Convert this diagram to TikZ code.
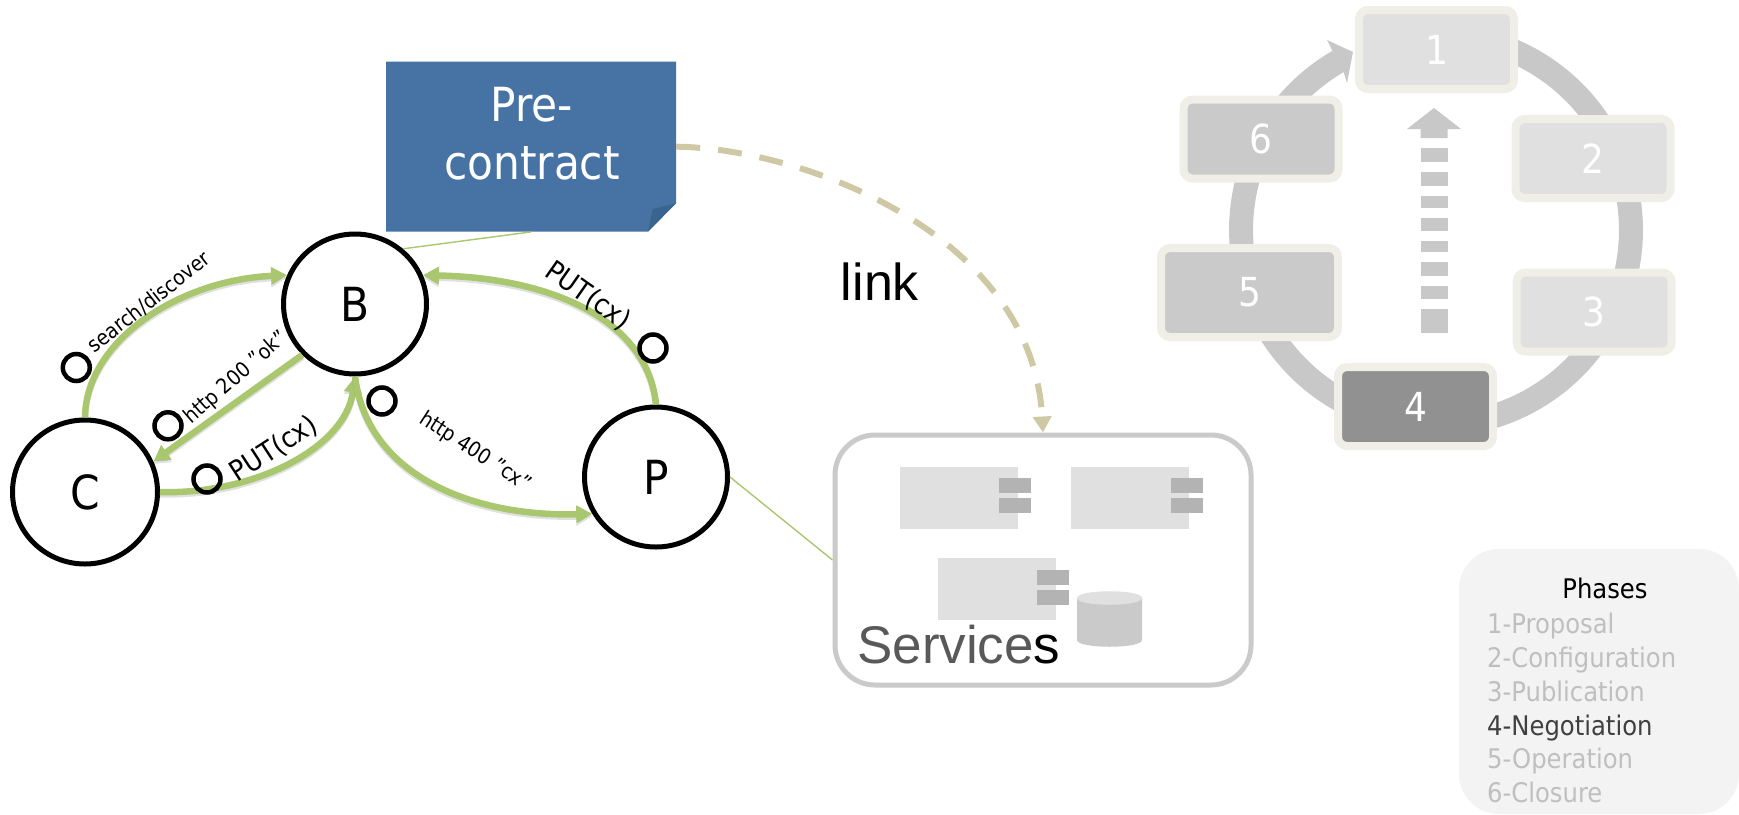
\documentclass[tikz,border=0pt]{standalone}
\usepackage{fontspec}
\setmainfont{DejaVu Sans Condensed}
\newfontfamily\arialfont{Liberation Sans}
\usetikzlibrary{arrows.meta,shadows,shapes.geometric}
\definecolor{grn}{HTML}{A9C76E}
\definecolor{beige}{HTML}{CFC8A4}
\definecolor{notebl}{HTML}{4673A4}
\definecolor{notefold}{HTML}{3A6490}
\definecolor{ringc}{HTML}{C8C8C8}
\definecolor{frame}{HTML}{EFEFE7}
\definecolor{lightc}{HTML}{E0E0E0}
\definecolor{midc}{HTML}{CACACA}
\definecolor{darkc}{HTML}{919191}
\definecolor{tabc}{HTML}{B3B3B3}
\definecolor{phgrey}{HTML}{BFBFBF}
\definecolor{phbg}{HTML}{F3F3F3}
\tikzset{
  actor/.style={draw=black,line width=5pt,ellipse,fill=white,inner sep=0pt,font=\fontsize{47}{50}\selectfont},
  flow/.style={draw=grn,line width=6.5pt,-{Triangle[length=16pt,width=17pt]},
    preaction={draw=black,opacity=.12,line width=6pt,transform canvas={yshift=-2.5pt}}},
  thinlink/.style={draw=grn,line width=1.4pt},
  ringpath/.style={draw=ringc,line width=24pt},
  phasebox/.style={rectangle,rounded corners=9pt,draw=frame,line width=8pt,text=white,inner sep=0pt,
    font=\fontsize{40}{44}\selectfont,drop shadow={shadow xshift=0pt,shadow yshift=-3pt,opacity=.28,fill=black}},
  smallring/.style={circle,draw=black,line width=4.5pt,fill=none,minimum size=27pt,inner sep=0pt},
  lbl/.style={inner sep=0pt,text=black},
  comp/.style={fill=lightc,draw=none,rectangle,inner sep=0pt,minimum width=118pt,minimum height=62pt},
  tabbox/.style={fill=tabc,draw=none,rectangle,inner sep=0pt,minimum width=32pt,minimum height=15pt},
  phline/.style={anchor=base west,inner sep=0pt,text=phgrey,font=\fontsize{27}{30}\selectfont},
}
\begin{document}
\begin{tikzpicture}[x=1pt,y=-1pt]
\useasboundingbox (0,0) rectangle (1739,814);

% phases legend
\fill[phbg,rounded corners=40pt] (1459,549) rectangle (1739,814);
\node[anchor=base,inner sep=0pt,text=black,font=\fontsize{27}{30}\selectfont] (phT) at (1605,598) {Phases};
\node[phline] (ph1) at (1487,633) {1-Proposal};
\node[phline] (ph2) at (1487,667) {2-Configuration};
\node[phline] (ph3) at (1487,701) {3-Publication};
\node[phline,text=black!75] (ph4) at (1487,735) {4-Negotiation};
\node[phline] (ph5) at (1487,768) {5-Operation};
\node[phline] (ph6) at (1487,802) {6-Closure};

% ring
\draw[ringpath] plot[domain=90:-240,samples=140] ({1436+195*cos(\x)},{230-195*sin(\x)});
\fill[ringc] (1327,40) -- (1353,52) -- (1347,83) -- (1343.6,72) -- (1333,52) -- cycle;

% up arrow
\fill[ringc] (1434,108) -- (1461,129) -- (1447.7,129) -- (1447.7,138) -- (1420.5,138) -- (1420.5,129) -- (1407,129) -- cycle;
\foreach \a/\b in {148/162,172/186,196/208,218/231,241/252,262/276,286/299,309/333}
  \fill[ringc] (1420.5,\a) rectangle (1447.7,\b);

% phase boxes
\node[phasebox,fill=lightc,minimum width=155pt,minimum height=79pt] (p1) at (1436.5,49.5) {1};
\node[phasebox,fill=lightc,minimum width=155pt,minimum height=79pt] (p2) at (1593,158.5) {2};
\node[phasebox,fill=lightc,minimum width=155pt,minimum height=79pt] (p3) at (1594,312) {3};
\node[phasebox,fill=darkc,minimum width=155pt,minimum height=79pt] (p4) at (1415.5,406.5) {4};
\node[phasebox,fill=midc,minimum width=177pt,minimum height=89pt] (p5) at (1249.5,292.5) {5};
\node[phasebox,fill=midc,minimum width=155pt,minimum height=79pt] (p6) at (1261,139) {6};

% services
\node[rectangle,draw=midc,line width=5pt,rounded corners=40pt,minimum width=416pt,minimum height=250pt,inner sep=0pt] (svc) at (1043,560) {};
\node[comp] (c1) at (959,498) {};
\node[tabbox] (t1a) at (1015,485.5) {};
\node[tabbox] (t1b) at (1015,505.5) {};
\node[comp] (c2) at (1130,498) {};
\node[tabbox] (t2a) at (1187,485.5) {};
\node[tabbox] (t2b) at (1187,505.5) {};
\node[comp] (c3) at (997,589) {};
\node[tabbox] (t3a) at (1053,577.5) {};
\node[tabbox] (t3b) at (1053,597.5) {};
\fill[midc] (1077,598) -- (1142,598) -- (1142,640) .. controls (1142,649) and (1077,649) .. (1077,640) -- cycle;
\fill[lightc] (1077,598) .. controls (1077,589) and (1142,589) .. (1142,598) .. controls (1142,607) and (1077,607) .. (1077,598) -- cycle;
\node[anchor=base west,inner sep=0pt,font=\arialfont\fontsize{53}{56}\selectfont] (svctxt) at (857,663) {\textcolor[HTML]{595959}{Service}s};

% note
\node[rectangle,inner sep=0pt,minimum width=290pt,minimum height=170pt] (note) at (531,146.7) {};
\fill[notebl] (386,61.7) -- (676,61.7) -- (676,203.3) -- (648,231.7) -- (386,231.7) -- cycle;
\fill[notefold] (652.7,209) -- (676,203.3) -- (648,231.7) -- cycle;
\node[inner sep=0pt,align=center,text=white,font=\fontsize{47}{58}\selectfont] (notetxt) at (532,134) {Pre-\\contract};

% actors
\node[actor,minimum width=143pt,minimum height=140pt] (B) at (355,304) {B};
\node[actor,minimum width=145pt,minimum height=144pt] (C) at (85,492) {C};
\node[actor,minimum width=143pt,minimum height=140pt] (P) at (656,477) {P};

% thin links
\draw[thinlink] (B.49) -- (note.south);
\draw[thinlink] (P.east) -- (svc.west);

% dashed link
\draw[draw=beige,line width=6pt,dash pattern=on 24pt off 18pt,-{Triangle[length=16pt,width=18pt]}]
  (note.east) .. controls (800,148) and (1032,232) .. (svc.north);
\node[anchor=base,inner sep=0pt,text=black,font=\arialfont\fontsize{52}{56}\selectfont] (linklbl) at (880,300) {link};

% flows
\draw[flow] (C.north) .. controls (86,340) and (180,280) .. (B.157);
\draw[flow] (P.north) .. controls (648,322) and (555,278) .. (B.23);
\draw[flow] (B.224) -- (C.24);
\draw[flow] (C.east) .. controls (250,495) and (345,450) .. (B.south);
\draw[flow] (B.south) .. controls (368,480) and (480,517) .. (P.210);

% small rings
\node[smallring] (o1) at (76.3,367.5) {};
\node[smallring] (o2) at (168,425.8) {};
\node[smallring] (o3) at (207,479) {};
\node[smallring] (o4) at (382,401) {};
\node[smallring] (o5) at (653,348) {};

% labels
\node[lbl,rotate=38,font=\fontsize{21}{24}\selectfont] (l1) at (149,302) {search/discover};
\node[lbl,rotate=41,font=\fontsize{21}{24}\selectfont] (l2) at (236,378) {http 200 "ok"};
\node[lbl,rotate=33,font=\fontsize{28}{30}\selectfont] (l3) at (274,449) {PUT(cx)};
\node[lbl,rotate=-35,font=\fontsize{28}{30}\selectfont] (l4) at (588,296) {PUT(cx)};
\node[lbl,rotate=-33,font=\fontsize{21}{24}\selectfont] (l5) at (475,452) {http 400 "cx"};
\end{tikzpicture}
\end{document}
